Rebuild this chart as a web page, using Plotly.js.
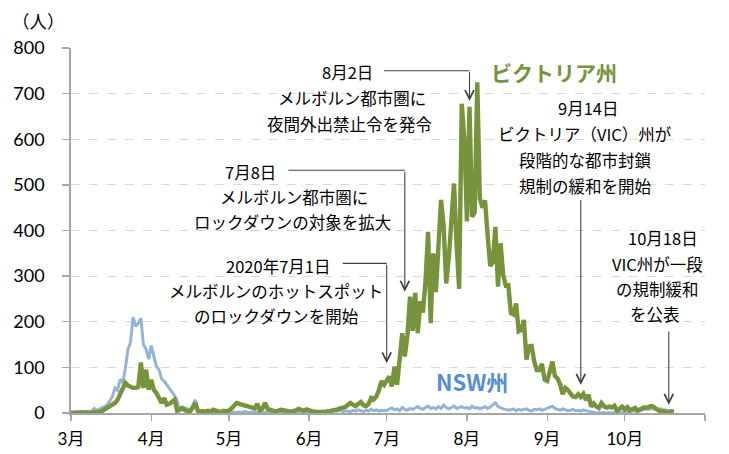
<!DOCTYPE html>
<html>
<head>
<meta charset="utf-8">
<script src="https://cdn.plot.ly/plotly-3.0.1.min.js"></script>
<style>html,body{margin:0;padding:0;background:#fff;}#chart{width:729px;height:454px;}</style>
</head>
<body>
<div id="chart"></div>
<script>
// ---- Data (daily new cases, 2020-03-01 .. 2020-10-20) ----
const startDate = "2020-03-01";
const vicMar = [0,0,1,1,0,1,1,1,2,1, 2,3,4,8,11,14,18,22,29,40, 55,66,60,57,55,55,57,111,55,95, 51];
const vicApr = [73,51,44,30,22,33,18,20,25,29, 5,8,11,6,4,3,12,22,5,3, 4,3,5,3,7,4,3,2,5,4];
const vicMay = [5,10,17,22,20,18,16,14,12,11, 10,20,6,10,22,9,7,4,3,5, 7,6,4,4,3,4,6,9,7,5, 8];
const vicJun = [5,4,3,2,1,2,2,3,3,4, 5,8,10,11,13,18,22,18,15,20, 24,17,15,20,33,30,36,50,70,62];
const vicJul = [70,80,58,102,62,120,175,124,170,255, 180,263,175,245,220,290,397,197,350,265, 360,467,410,284,340,440,503,370,272,678, 600];
const vicAug = [420,671,430,440,725,470,450,466,390,322, 331,408,277,372,303,279,280,219,216,240, 179,182,204,117,146,147,113,94,94,108, 73];
const vicSep = [70,90,113,81,76,63,41,55,51,43, 36,35,41,35,42,28,40,14,21,14, 11,22,15,12,14,12,16,5,10,14];
const vicOct = [8,13,6,8,11,5,9,11,12,12, 15,14,9,7,3,4,2,1,4,3];

const nswMar = [2,1,3,2,4,2,3,2,4,10, 6,8,12,14,18,28,36,55,50,74, 66,98,139,155,210,190,197,208,150,140, 118];
const nswApr = [148,125,102,95,75,70,62,55,47,38, 28,5,8,11,9,6,15,29,8,5, 4,5,3,6,4,3,5,3,2,4];
const nswMay = [3,2,1,1,2,1,3,2,1,2, 1,2,3,2,1,2,1,3,2,5, 3,2,4,2,1,3,2,1,2,3, 2];
const nswJun = [3,2,4,3,2,5,3,6,4,3, 5,4,6,3,5,4,3,6,4,7, 5,3,6,4,8,5,7,4,6,5];
const nswJul = [6,8,11,7,9,5,12,8,6,10, 8,11,14,10,8,12,15,10,12,9, 14,10,17,12,9,12,15,10,12,14, 11];
const nswAug = [12,9,15,11,12,9,11,14,10,13, 18,22,14,11,9,8,6,7,9,5, 8,6,7,9,6,4,8,7,9,6, 8];
const nswSep = [10,12,15,10,8,6,9,7,5,6, 8,5,6,4,7,5,4,2,1,0, 1,0,1,0,1,0,1,2,1,2];
const nswOct = [3,4,3,5,4,6,5,7,9,8, 10,9,11,8,9,7,6,5,4,3];

const tickVals = ["2020-03-01","2020-04-01","2020-05-01","2020-06-01","2020-07-01","2020-08-01","2020-09-01","2020-10-01","2020-11-01"];
const tickText = ["3月","4月","5月","6月","7月","8月","9月","10月",""];
const yTicks = [0,100,200,300,400,500,600,700,800];

const vic = [].concat(vicMar,vicApr,vicMay,vicJun,vicJul,vicAug,vicSep,vicOct);
const nsw = [].concat(nswMar,nswApr,nswMay,nswJun,nswJul,nswAug,nswSep,nswOct);

function dateSeq(start, n){
  const out=[]; const t0=Date.parse(start+"T00:00:00Z");
  for(let i=0;i<n;i++){ out.push(new Date(t0+i*86400000).toISOString().slice(0,10)); }
  return out;
}
const dates = dateSeq(startDate, vic.length);

// ---- Layout helpers ----
const L=71, R=705, T=48, B=413;
const px = x => (x-L)/(R-L);
const py = y => (B-y)/(B-T);
const JP = '"Noto Sans CJK JP", "Noto Sans", sans-serif';
const NUM = 'Lato, "Noto Sans CJK JP", sans-serif';
const ARROW = '#404040';

const textLines = [
  ["8月2日",347,72],["メルボルン都市圏に",352,98],["夜間外出禁止令を発令",349,124],
  ["7月8日",250,172],["メルボルン都市圏に",294,197],["ロックダウンの対象を拡大",292,222],
  ["2020年7月1日",278,266],["メルボルンのホットスポット",276,291],["のロックダウンを開始",276,316],
  ["9月14日",588,108],["ビクトリア（VIC）州が",585,134],["段階的な都市封鎖",585,160],["規制の緩和を開始",585,186],
  ["10月18日",663,238],["VIC州が一段",657,264],["の規制緩和",657,289],["を公表",655,314]
];
const annotations = textLines.map(([t,x,y]) => ({
  text:t, xref:'paper', yref:'paper', x:px(x), y:py(y), xanchor:'center', yanchor:'middle',
  showarrow:false, font:{family:JP, size:16.5, color:'#000'}
}));
annotations.push({text:'（人）', xref:'paper', yref:'paper', x:px(38), y:py(20), xanchor:'center', yanchor:'middle', showarrow:false, font:{family:JP,size:17.5,color:'#000'}});
annotations.push({text:'<b>ビクトリア州</b>', xref:'paper', yref:'paper', x:px(554), y:py(72), xanchor:'center', yanchor:'middle', showarrow:false, font:{family:JP,size:21,color:'#77933c'}});
annotations.push({text:'<b>NSW州</b>', xref:'paper', yref:'paper', x:px(472), y:py(381), xanchor:'center', yanchor:'middle', showarrow:false, font:{family:JP,size:22,color:'#558ed5'}});

// event connectors: [tipDate, tipValue, topValue, horizontalStart or null]
const events = [
  ["2020-08-02",684,750,"2020-06-30"],
  ["2020-07-08",266,532,"2020-05-24"],
  ["2020-07-01",109,328,"2020-06-14"],
  ["2020-09-14",62,470,null],
  ["2020-10-18",18,182,null]
];
const pxPerUnit = (B-T)/800;
const shapes = [];
events.forEach(([d,tip,top,hs]) => {
  annotations.push({text:'', xref:'x', yref:'y', x:d, y:tip, axref:'pixel', ayref:'pixel', ax:0, ay:-(top-tip)*pxPerUnit,
    showarrow:true, arrowhead:5, arrowsize:1.6, arrowwidth:1.1, arrowcolor:ARROW, standoff:0});
  if(hs){ shapes.push({type:'line', xref:'x', yref:'y', x0:hs, x1:d, y0:top, y1:top, line:{color:ARROW,width:1.1}}); }
});

const traces = [
  {x:dates, y:nsw, type:'scatter', mode:'lines', name:'NSW州', line:{color:'#95b3d7', width:3}},
  {x:dates, y:vic, type:'scatter', mode:'lines', name:'ビクトリア州', line:{color:'#77933c', width:4.4}}
];

const layout = {
  width:729, height:454, margin:{l:L, r:729-R, t:T, b:454-B},
  paper_bgcolor:'#fff', plot_bgcolor:'#fff', showlegend:false,
  xaxis:{type:'date', range:["2020-03-01","2020-11-01"], tickvals:tickVals, ticktext:tickText,
    ticks:'outside', ticklen:6, tickcolor:'#a6a6a6', tickwidth:1.3, showgrid:false, zeroline:false,
    showline:true, linecolor:'#a6a6a6', linewidth:1.5, tickfont:{family:NUM, size:17, color:'#000'}, ticklabelstandoff:4},
  yaxis:{range:[0,800], tickvals:yTicks, ticks:'outside', ticklen:7, tickcolor:'#a6a6a6', tickwidth:1.3,
    showgrid:true, gridcolor:'#d9d9d9', griddash:'dash', gridwidth:1, zeroline:false,
    showline:true, linecolor:'#a6a6a6', linewidth:1.8, tickfont:{family:NUM, size:18, color:'#000'}, ticklabelstandoff:14},
  annotations:annotations, shapes:shapes
};
Plotly.newPlot('chart', traces, layout, {staticPlot:true, displayModeBar:false});
</script>
</body>
</html>
